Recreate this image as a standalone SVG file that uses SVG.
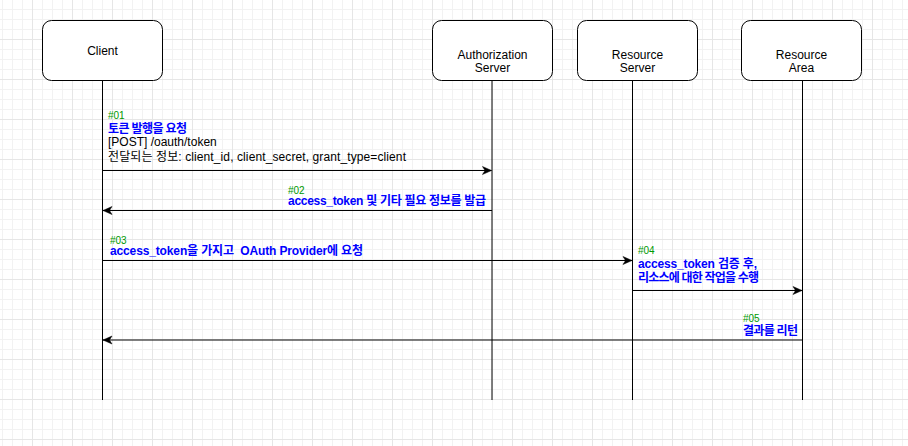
<svg xmlns="http://www.w3.org/2000/svg" width="908" height="446" viewBox="0 0 908 446">
  <style>
    text { font-family: "Liberation Sans", "Noto Sans CJK KR", Arial, sans-serif; }
    .box { fill: #ffffff; stroke: #000000; stroke-width: 1; }
    .life { stroke: #000000; stroke-width: 1; fill: none; }
    .lbl { font-size: 12px; fill: #000000; text-anchor: middle; }
    .msg { stroke: #000000; stroke-width: 1; fill: none; marker-end: url(#arrow); }
    .num { font-size: 10px; fill: #009900; }
    .blue { font-size: 12px; font-weight: bold; fill: #0000ff; }
    .plain { font-size: 12px; fill: #000000; }
  </style>
  <defs>
    <pattern id="grid" x="2" y="9" width="40" height="40" patternUnits="userSpaceOnUse">
      <path d="M0.5 0V40M10.5 0V40M20.5 0V40M0 0.5H40M0 10.5H40M0 20.5H40" stroke="#f2f2f2" stroke-width="1" fill="none"/>
      <path d="M30.5 0V40M0 30.5H40" stroke="#e6e6e6" stroke-width="1" fill="none"/>
    </pattern>
    <marker id="arrow" markerUnits="userSpaceOnUse" markerWidth="12" markerHeight="10" viewBox="-10 -5 12 10" refX="0" refY="0" orient="auto" overflow="visible">
      <path d="M0 0L-9 -4L-6.5 0L-9 4Z" fill="#000000" stroke="#000000" stroke-width="0.5" stroke-linejoin="miter"/>
    </marker>
  </defs>

  <rect width="908" height="446" fill="#ffffff"/>
  <rect width="908" height="446" fill="url(#grid)"/>

  <g id="client">
    <line class="life" x1="102.5" y1="80.5" x2="102.5" y2="400"/>
    <rect class="box" x="42.5" y="20.5" width="120" height="60" rx="9" ry="9"/>
    <text class="lbl" x="102.5" y="55">Client</text>
  </g>

  <g id="authorization-server">
    <line class="life" x1="492" y1="80.5" x2="492" y2="400"/>
    <rect class="box" x="432.5" y="20.5" width="120" height="60" rx="9" ry="9"/>
    <text class="lbl" x="492.5" y="58.5">Authorization</text>
    <text class="lbl" x="492.5" y="72">Server</text>
  </g>

  <g id="resource-server">
    <line class="life" x1="632.5" y1="80.5" x2="632.5" y2="400"/>
    <rect class="box" x="577.5" y="20.5" width="120" height="60" rx="9" ry="9"/>
    <text class="lbl" x="637.5" y="58.5">Resource</text>
    <text class="lbl" x="637.5" y="72">Server</text>
  </g>

  <g id="resource-area">
    <line class="life" x1="802.5" y1="80.5" x2="802.5" y2="400"/>
    <rect class="box" x="741.5" y="20.5" width="120" height="60" rx="9" ry="9"/>
    <text class="lbl" x="801.5" y="58.5">Resource</text>
    <text class="lbl" x="801.5" y="72">Area</text>
  </g>

  <g id="connectors">
    <!-- #01 -->
    <line class="msg" x1="102.5" y1="170.5" x2="491.5" y2="170.5"/>
    <text class="num" x="108" y="119">#01</text>
    <text class="blue" x="108" y="132.5" textLength="79">토큰 발행을 요청</text>
    <text class="plain" x="108" y="146">[POST] /oauth/token</text>
    <text class="plain" x="108" y="160.5" textLength="298">전달되는 정보: client_id, client_secret, grant_type=client</text>

    <!-- #02 -->
    <line class="msg" x1="492" y1="210.5" x2="103" y2="210.5"/>
    <text class="num" x="288" y="193.5">#02</text>
    <text class="blue" x="288" y="205" textLength="198">access_token 및 기타 필요 정보를 발급</text>

    <!-- #03 -->
    <line class="msg" x1="102.5" y1="260.5" x2="632" y2="260.5"/>
    <text class="num" x="110" y="243.5">#03</text>
    <text class="blue" x="110" y="255" textLength="253" style="white-space:pre" xml:space="preserve">access_token을 가지고  OAuth Provider에 요청</text>

    <!-- #04 -->
    <line class="msg" x1="632.5" y1="290.5" x2="802" y2="290.5"/>
    <text class="num" x="638" y="253.5">#04</text>
    <text class="blue" x="638" y="267.5" textLength="119">access_token 검증 후,</text>
    <text class="blue" x="638" y="281.5" textLength="121">리소스에 대한 작업을 수행</text>

    <!-- #05 -->
    <line class="msg" x1="802.5" y1="340" x2="103" y2="340"/>
    <text class="num" x="743" y="321.5">#05</text>
    <text class="blue" x="743" y="334.5" textLength="55">결과를 리턴</text>
  </g>
</svg>
